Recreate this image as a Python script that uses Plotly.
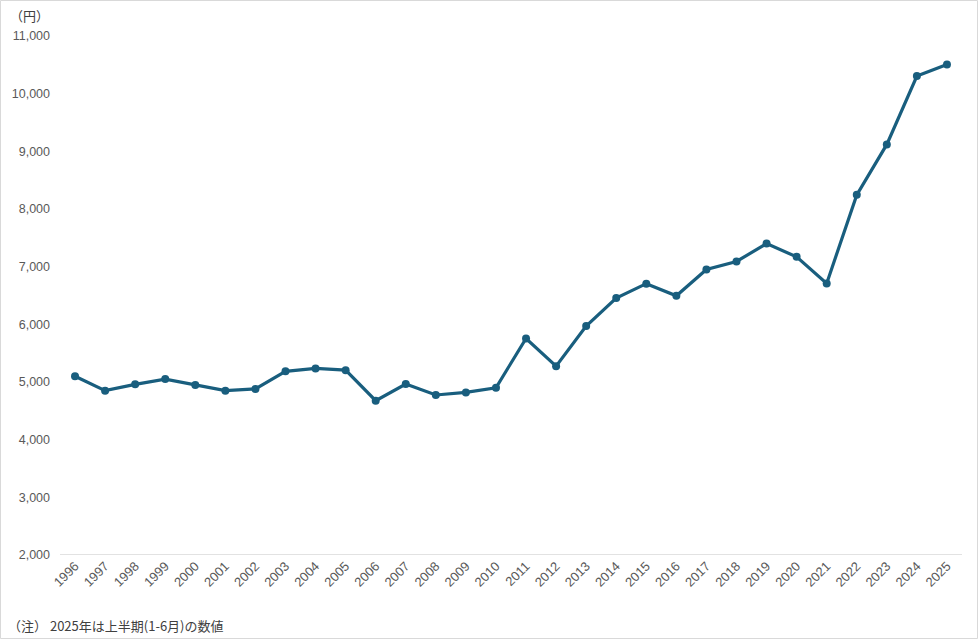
import plotly.graph_objects as go

years = [str(y) for y in range(1996, 2026)]
values = [5100, 4850, 4960, 5050, 4950, 4850, 4880, 5185, 5235, 5205,
          4675, 4965, 4775, 4820, 4900, 5755, 5275, 5970, 6455, 6705,
          6495, 6950, 7090, 7400, 7170, 6710, 8245, 9120, 10305, 10505]
y_ticks = list(range(2000, 11001, 1000))
y_tick_labels = [f"{v:,}" for v in y_ticks]

W, H = 978, 639
ML, MR, MT, MB = 60, 16, 36, 84
PW, PH = W - ML - MR, H - MT - MB

color = "#195E7E"
num_font = "Liberation Sans, Arial, sans-serif"
jp_font = "Noto Sans CJK JP, Noto Sans, sans-serif"

fig = go.Figure()
fig.add_trace(go.Scatter(
    x=years, y=values, mode="lines+markers",
    line=dict(color=color, width=3.2),
    marker=dict(color=color, size=8),
    showlegend=False,
))

fig.update_layout(
    width=W, height=H,
    margin=dict(l=ML, r=MR, t=MT, b=MB),
    paper_bgcolor="white", plot_bgcolor="white",
    font=dict(family=num_font, size=13, color="#595959"),
    xaxis=dict(
        type="category", range=[-0.5, len(years) - 0.5],
        tickangle=-45, showgrid=False, showline=False, zeroline=False,
        ticks="", tickfont=dict(family=num_font, size=13, color="#595959"),
    ),
    yaxis=dict(
        range=[2000, 11000], tickvals=y_ticks, ticktext=y_tick_labels,
        showgrid=False, zeroline=False, showline=False, ticks="",
        tickfont=dict(family=num_font, size=12.5, color="#595959"),
        ticklabelstandoff=9,
    ),
    shapes=[
        dict(type="line", xref="paper", yref="y", x0=0, x1=1, y0=2000, y1=2000,
             line=dict(color="#d9d9d9", width=1.5)),
        dict(type="rect", xref="paper", yref="paper",
             x0=(-ML + 0.5) / PW, x1=(W - ML - 0.5) / PW,
             y0=(-MB + 0.5) / PH, y1=(H - MB - 0.5) / PH,
             line=dict(color="#d9d9d9", width=1)),
    ],
    annotations=[
        dict(text="（円）", xref="paper", yref="paper",
             x=(8 - ML) / PW, y=(H - MB - 15) / PH, xanchor="left", yanchor="middle",
             showarrow=False, font=dict(family=jp_font, size=13, color="#404040")),
        dict(text="（注） 2025年は上半期(1-6月)の数値", xref="paper", yref="paper",
             x=(6 - ML) / PW, y=(H - MB - 625) / PH, xanchor="left", yanchor="middle",
             showarrow=False, font=dict(family=jp_font, size=13, color="#404040")),
    ],
)

fig.write_html("out.html", config={"displayModeBar": False},
               post_script="document.body.style.margin='0';")
